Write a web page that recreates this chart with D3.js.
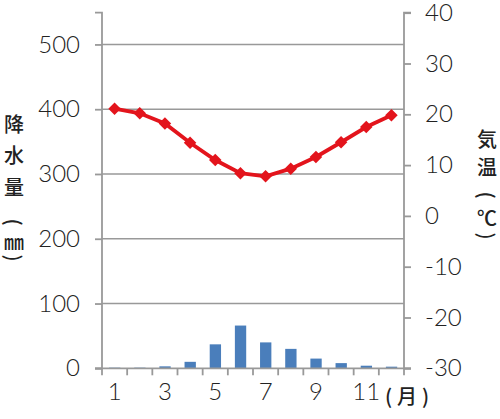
<!DOCTYPE html>
<html lang="ja">
<head>
<meta charset="UTF-8">
<title>雨温図</title>
<script src="https://d3js.org/d3.v7.min.js"></script>
<style>
    body { margin: 0; background: #fff; }
    svg text { fill: #222; }
    .tick-label { font-family: Lato, "Noto Sans", sans-serif; font-size: 24px; font-weight: 300; }
    .axis-title { font-family: "Noto Sans CJK JP", sans-serif; font-size: 20px; font-weight: 500; }
</style>
</head>
<body>
<svg id="chart" width="500" height="419"></svg>
<script>
    const months = [1, 2, 3, 4, 5, 6, 7, 8, 9, 10, 11, 12];
    const precipitation = [1, 1, 3, 10, 37, 66, 40, 30, 15, 8, 4, 2.5];
    const temperature = [21.1, 20.2, 18.2, 14.4, 11.0, 8.4, 7.8, 9.3, 11.6, 14.5, 17.5, 19.8];
    const precipTicks = [0, 100, 200, 300, 400, 500];
    const tempTicks = [-30, -20, -10, 0, 10, 20, 30, 40];
    const monthLabels = [1, 3, 5, 7, 9, 11];

    const svg = d3.select("#chart");
    const plotLeft = 102, plotRight = 404, plotTop = 12.7, plotBottom = 368.3;
    const gray = "#999";

    const x = d3.scaleBand().domain(months).range([plotLeft, plotRight]);
    const yP = d3.scaleLinear().domain([0, 549]).range([plotBottom, plotTop]);
    const yT = d3.scaleLinear().domain([-30, 40]).range([plotBottom, plotTop]);

    // grid lines
    svg.append("g").selectAll("line")
        .data(precipTicks.filter(d => d > 0))
        .join("line")
        .attr("x1", plotLeft).attr("x2", plotRight)
        .attr("y1", d => yP(d)).attr("y2", d => yP(d))
        .attr("stroke", gray).attr("stroke-width", 1.6);

    // bars
    svg.append("g").selectAll("rect")
        .data(months)
        .join("rect")
        .attr("x", d => x(d) + x.bandwidth() * 0.28)
        .attr("width", x.bandwidth() * 0.45)
        .attr("y", (d, i) => yP(precipitation[i]))
        .attr("height", (d, i) => plotBottom - yP(precipitation[i]))
        .attr("fill", "#4a7ebb");

    // left axis
    const axL = svg.append("g").attr("transform", `translate(${plotLeft},0)`)
        .call(d3.axisLeft(yP).tickValues(precipTicks).tickFormat(d => String(d)).tickSize(7).tickPadding(15));
    // right axis
    const axR = svg.append("g").attr("transform", `translate(${plotRight},0)`)
        .call(d3.axisRight(yT).tickValues(tempTicks).tickFormat(d => String(d)).tickSize(7).tickPadding(14));
    // bottom axis
    const axB = svg.append("g").attr("transform", `translate(0,${plotBottom})`)
        .call(d3.axisBottom(x).tickValues(monthLabels).tickSize(0).tickPadding(21));

    [axL, axR, axB].forEach(a => {
        a.selectAll("path, line").attr("stroke", gray).attr("stroke-width", 1.8);
        a.selectAll("text").attr("class", "tick-label").attr("fill", "#222");
    });
    axL.select(".domain").attr("d", `M-7,${plotTop}H0V${plotBottom}H-7`);
    axR.select(".domain").attr("d", `M7,${plotTop}H0V${plotBottom}H7`);
    axB.select(".domain").remove();
    axB.selectAll(".tick text").attr("dy", "0.45em");

    // x baseline with ticks at band edges
    svg.append("line")
        .attr("x1", plotLeft - 7).attr("x2", plotRight + 7)
        .attr("y1", plotBottom).attr("y2", plotBottom)
        .attr("stroke", gray).attr("stroke-width", 1.8);
    svg.append("g").selectAll("line")
        .data(months.concat([13]))
        .join("line")
        .attr("x1", d => d === 13 ? plotRight : x(d))
        .attr("x2", d => d === 13 ? plotRight : x(d))
        .attr("y1", plotBottom).attr("y2", plotBottom + 7)
        .attr("stroke", gray).attr("stroke-width", 1.8);

    // temperature line
    const line = d3.line()
        .x((d, i) => x(months[i]) + x.bandwidth() / 2)
        .y(d => yT(d));
    svg.append("path")
        .datum(temperature)
        .attr("d", line)
        .attr("fill", "none")
        .attr("stroke", "#e3141c")
        .attr("stroke-width", 3.8);
    svg.append("g").selectAll("path")
        .data(temperature)
        .join("path")
        .attr("d", d3.symbol(d3.symbolDiamond2, 100)())
        .attr("transform", (d, i) => `translate(${x(months[i]) + x.bandwidth() / 2},${yT(d)})`)
        .attr("fill", "#e3141c");

    // titles
    svg.append("text").attr("class", "axis-title")
        .attr("x", 385).attr("y", 395)
        .attr("dominant-baseline", "central")
        .style("letter-spacing", "5px")
        .text("(月)");

    // vertical titles: brackets are rotated to sit upright in the column
    const leftTitle = [["降", 123], ["水", 154], ["量", 186], ["(", 222], ["㎜", 241], [")", 258]];
    const rightTitle = [["気", 138], ["温", 166], ["(", 195], ["℃", 217], [")", 236]];
    function verticalTitle(chars, cx) {
        svg.append("g").selectAll("text")
            .data(chars)
            .join("text")
            .attr("class", "axis-title")
            .attr("text-anchor", "middle").attr("dominant-baseline", "central")
            .attr("transform", d => `translate(${cx},${d[1]})` + (d[0] === "(" || d[0] === ")" ? " rotate(90)" : ""))
            .text(d => d[0]);
    }
    verticalTitle(leftTitle, 14);
    verticalTitle(rightTitle, 487);
</script>
</body>
</html>
